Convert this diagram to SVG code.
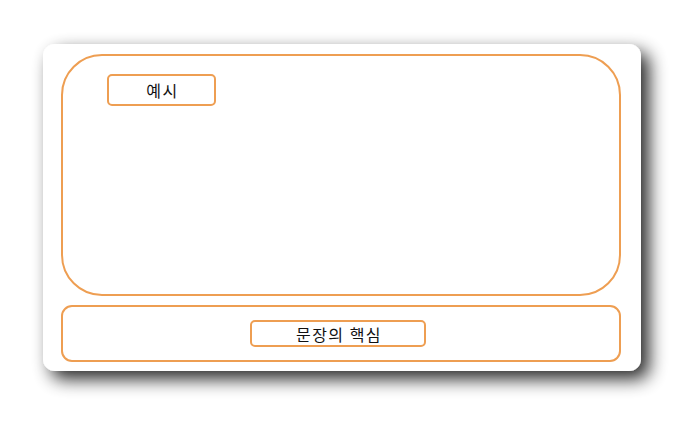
<svg xmlns="http://www.w3.org/2000/svg" width="697" height="427" viewBox="0 0 697 427">
<defs>
<filter id="sh" x="-10%" y="-15%" width="130%" height="140%">
<feGaussianBlur in="SourceAlpha" stdDeviation="9" result="b"/>
<feOffset in="b" dx="8" dy="8" result="o"/>
<feComponentTransfer in="o" result="s"><feFuncA type="linear" slope="0.85"/></feComponentTransfer>
<feMerge><feMergeNode in="s"/><feMergeNode in="SourceGraphic"/></feMerge>
</filter>
<style>
.box{fill:none;stroke:#EE9E52;stroke-width:2}
.lbl{fill:#fff;stroke:#EE9E52;stroke-width:2}
.t{font-family:"Noto Sans CJK KR","Noto Sans",sans-serif;font-size:16px;letter-spacing:1.5px;fill:#111;text-anchor:middle;dominant-baseline:central}
</style>
</defs>
<rect width="697" height="427" fill="#fff"/>
<g id="card"><rect x="43" y="44" width="598" height="327" rx="12" fill="#fff" filter="url(#sh)"/></g>
<g id="example-area"><rect class="box" x="62" y="55" width="558" height="240" rx="40"/></g>
<g id="core-area"><rect class="box" x="62" y="306" width="558" height="55" rx="10"/></g>
<g id="label-example"><rect class="lbl" x="108" y="75" width="107" height="30" rx="4"/><text class="t" x="162.5" y="90">예시</text></g>
<g id="label-core"><rect class="lbl" x="251" y="321" width="174" height="25" rx="4"/><text class="t" x="339" y="333.5">문장의 핵심</text></g>
<g id="connectors"></g>
</svg>
